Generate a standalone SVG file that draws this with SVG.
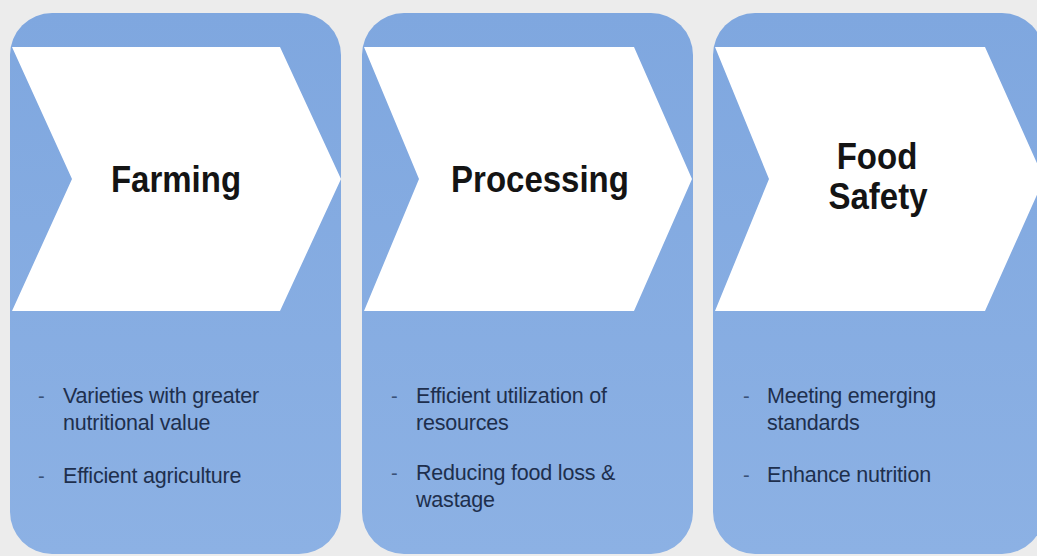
<svg xmlns="http://www.w3.org/2000/svg" width="1037" height="556" viewBox="0 0 1037 556">
<defs>
<linearGradient id="boxg" x1="0" y1="0" x2="0" y2="1">
<stop offset="0" stop-color="#7fa7df"/>
<stop offset="1" stop-color="#8cb1e4"/>
</linearGradient>
<style>
.box{fill:url(#boxg);}
.chev{fill:#ffffff;}
.title{font-family:"Liberation Sans",Arial,sans-serif;font-weight:bold;font-size:33px;fill:#141414;text-anchor:middle;}
.body{font-family:"Liberation Sans",Arial,sans-serif;font-size:21.5px;fill:#1e2f4d;letter-spacing:-0.2px;}
.dash{font-family:"Liberation Sans",Arial,sans-serif;font-size:20px;fill:#3a5278;}
</style>
</defs>
<rect width="1037" height="556" fill="#ececec"/>
<g id="connectors"></g>
<g id="node-farming">
<rect class="box" x="10" y="13" width="331" height="541" rx="42" ry="42"/>
<polygon class="chev" points="12,47 280,47 341,179 280,311 12,311 72,179"/>
<text class="title" x="176" y="192" transform="translate(0,-19.2) scale(1,1.1)">Farming</text>
<text class="dash" x="38" y="403">-</text>
<text class="body" x="63" y="403">Varieties with greater</text>
<text class="body" x="63" y="430">nutritional value</text>
<text class="dash" x="38" y="483">-</text>
<text class="body" x="63" y="483">Efficient agriculture</text>
</g>
<g id="node-processing">
<rect class="box" x="362" y="13" width="331" height="541" rx="42" ry="42"/>
<polygon class="chev" points="364,47 634,47 692,179 634,311 364,311 419,179"/>
<text class="title" x="540" y="192" transform="translate(0,-19.2) scale(1,1.1)">Processing</text>
<text class="dash" x="391" y="403">-</text>
<text class="body" x="416" y="403">Efficient utilization of</text>
<text class="body" x="416" y="430">resources</text>
<text class="dash" x="391" y="480">-</text>
<text class="body" x="416" y="480">Reducing food loss &amp;</text>
<text class="body" x="416" y="507">wastage</text>
</g>
<g id="node-food-safety">
<rect class="box" x="713" y="13" width="331" height="541" rx="42" ry="42"/>
<polygon class="chev" points="715,47 985,47 1044,179 985,311 715,311 769,179"/>
<text class="title" x="877" y="169" transform="translate(0,-16.9) scale(1,1.1)">Food</text>
<text class="title" x="878" y="209" transform="translate(0,-20.9) scale(1,1.1)">Safety</text>
<text class="dash" x="743" y="403">-</text>
<text class="body" x="767" y="403">Meeting emerging</text>
<text class="body" x="767" y="430">standards</text>
<text class="dash" x="743" y="482">-</text>
<text class="body" x="767" y="482">Enhance nutrition</text>
</g>
</svg>
